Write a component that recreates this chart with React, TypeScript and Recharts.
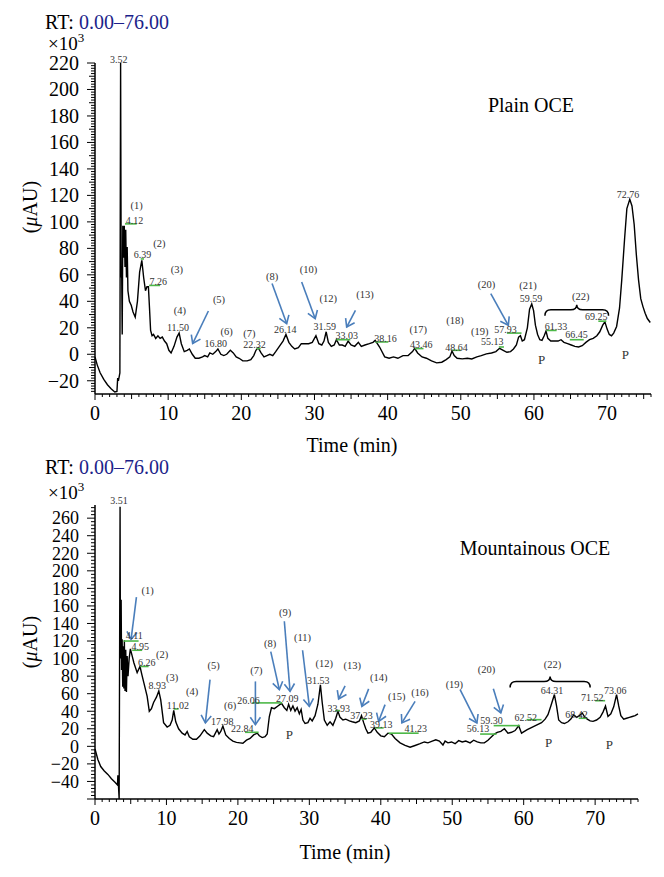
import React from 'react';
import { LineChart, Line, XAxis, YAxis, ReferenceDot, ReferenceLine } from 'recharts';

const FONT = '"Liberation Serif", "Times New Roman", serif';
const ARROW = '#4a7ebb';
const GREEN = '#4db848';
const NAVY = '#1c1f8a';

// ---- Plain OCE trace (time in min, signal x10^3 uAU)
const plainTime = [
    0, 0.3, 0.7, 1.2, 1.7, 2.2, 2.7, 3.0, 3.1, 3.2, 3.4, 3.5, 3.58, 3.65, 3.72, 3.8, 3.9, 4.0, 4.1, 4.2,
    4.3, 4.4, 4.5, 4.7, 4.95, 5.2, 5.5, 5.8, 6.1, 6.4, 6.65, 6.9, 7.1, 7.3, 7.45, 7.6, 7.8, 8.0, 8.3, 8.6,
    8.9, 9.2, 9.5, 9.8, 10.1, 10.4, 10.8, 11.2, 11.5, 11.8, 12.2, 12.6, 12.9, 13.3, 13.7, 14.2, 14.7, 15.0, 15.4, 15.7,
    16.1, 16.5, 16.8, 17.2, 17.6, 18.0, 18.5, 18.9, 19.3, 19.7, 20.2, 20.8, 21.3, 21.7, 22.0, 22.3, 22.7, 23.1, 23.5, 23.9,
    24.3, 24.7, 25.2, 25.7, 26.1, 26.5, 26.9, 27.3, 27.8, 28.2, 28.7, 29.2, 29.7, 30.2, 30.6, 31.0, 31.3, 31.6, 31.9, 32.3,
    32.7, 33.0, 33.4, 33.8, 34.2, 34.6, 35.0, 35.5, 36.0, 36.4, 36.9, 37.5, 38.0, 38.3, 38.9, 39.6, 40.2, 40.8, 41.4, 42.1,
    42.8, 43.4, 43.7, 44.1, 44.7, 45.3, 46.0, 46.7, 47.4, 48.0, 48.5, 48.8, 49.1, 49.5, 50.2, 50.9, 51.5, 52.2, 52.8, 53.5,
    54.2, 54.8, 55.3, 55.8, 56.3, 56.8, 57.2, 57.6, 57.9, 58.15, 58.4, 58.7, 59.1, 59.4, 59.7, 59.95, 60.2, 60.5, 60.8, 61.1,
    61.4, 61.65, 61.9, 62.3, 62.8, 63.3, 63.7, 64.1, 64.6, 65.1, 65.6, 66.1, 66.6, 67.1, 67.6, 68.1, 68.6, 69.0, 69.4, 69.7,
    70.0, 70.3, 70.6, 70.9, 71.3, 71.7, 72.0, 72.4, 72.7, 73.1, 73.4, 73.7, 74.0, 74.3, 74.6, 74.9, 75.2, 75.5, 75.9,
];
const plainSignal = [
    -2, -8, -14, -19, -23, -26, -28.5, -28, -18, -20, -14, 220, 58, 60, 15, 97, 73, 97, 66, 94,
    58, 81, 48, 40, 37, 32, 28, 40, 62, 71, 58, 48, 51, 51, 35, 18, 14, 15, 12, 14,
    12, 13, 10, 8, 3, 1, 6, 13, 16, 8, 2, 3, 4, 0, -3, -3, -2, -1, -2, 1,
    0, 2, 4, 0, -1, 0, 3, 1, -2, -3, -5, -5, -4, -1, 3, 5, 1, -2, -1, 0,
    -1, 2, 6, 10, 15, 9, 6, 4, 5, 8, 8, 8, 9, 14, 8, 7, 10, 17, 9, 6,
    7, 11, 7, 7, 6, 10, 7, 6, 9, 6, 7, 8, 9, 10.5, 5.5, -2, -3, -2, -3, -1,
    -1, 2, 4.5, 1, -2, -3, -5, -6.5, -6, -4, -2, 2.5, -1, -3, -3.5, -3, -3.5, -2, -1, 0.3,
    1, 2, 4.5, 3, 1.5, 2, 4, 7, 13, 14, 10, 11, 20, 34, 38, 33, 22, 15, 11, 10.5,
    14, 17.5, 12, 10, 10, 10, 11, 9, 8, 7, 6, 5.5, 6.5, 9, 11, 12, 14, 17, 22, 24.5,
    19, 15, 14, 16, 21, 35, 56, 88, 110, 117, 112, 98, 75, 56, 42, 36, 31, 27, 24,
];

// ---- Mountainous OCE trace
const mountTime = [
    0, 0.4, 0.8, 1.3, 1.8, 2.3, 2.8, 3.15, 3.2, 3.28, 3.38, 3.51, 3.56, 3.6, 3.66, 3.72, 3.8, 3.88, 3.96, 4.04,
    4.11, 4.2, 4.3, 4.4, 4.5, 4.62, 4.78, 4.95, 5.2, 5.45, 5.9, 6.3, 6.55, 6.85, 7.3, 7.6, 7.9, 8.2, 8.6, 8.93,
    9.2, 9.6, 10.1, 10.5, 10.8, 11.02, 11.3, 11.7, 12.2, 12.6, 12.9, 13.2, 13.7, 14.2, 14.7, 15.3, 15.7, 16.2, 16.6, 17.1,
    17.35, 17.6, 17.9, 18.3, 18.8, 19.3, 19.8, 20.3, 20.7, 21.2, 21.7, 22.2, 22.7, 23.0, 23.4, 23.8, 24.1, 24.4, 24.7, 25.1,
    25.6, 26.1, 26.5, 26.85, 27.1, 27.4, 27.7, 28.0, 28.3, 28.6, 28.85, 29.1, 29.4, 29.8, 30.1, 30.4, 30.8, 31.2, 31.55, 31.8,
    32.1, 32.5, 32.9, 33.3, 33.7, 34.0, 34.3, 34.7, 35.1, 35.6, 36.0, 36.5, 37.0, 37.3, 37.6, 37.9, 38.2, 38.6, 39.1, 39.5,
    40.0, 40.5, 41.0, 41.5, 42.0, 42.7, 43.4, 44.1, 44.8, 45.5, 46.1, 46.6, 47.2, 47.7, 48.2, 48.7, 49.0, 49.4, 49.9, 50.4,
    50.9, 51.4, 51.9, 52.5, 53.0, 53.5, 54.0, 54.5, 55.0, 55.5, 55.9, 56.3, 56.8, 57.3, 57.8, 58.3, 58.8, 59.3, 59.7, 60.1,
    60.5, 61.0, 61.5, 62.0, 62.5, 63.0, 63.4, 63.8, 64.3, 64.6, 64.9, 65.3, 65.7, 66.2, 66.6, 67.0, 67.4, 67.8, 68.2, 68.5,
    68.9, 69.3, 69.7, 70.2, 70.7, 71.1, 71.45, 71.8, 72.2, 72.6, 73.0, 73.3, 73.6, 74.0, 74.4, 74.8, 75.2, 75.6, 76.0,
];
const mountSignal = [
    -3, -15, -23, -28, -32, -37, -41, -44, -33, -44, -60, 273, 100, 150, 167, 87, 122, 68, 114, 66,
    121, 63, 110, 62, 103, 80, 100, 111, 103, 95, 84, 91, 82, 72, 57, 40, 43, 50, 56, 63,
    53, 27, 22, 24, 30, 41, 28, 20, 15, 13, 17, 11, 8, 8, 12, 19, 15, 12, 11, 19,
    14, 17, 23, 13, 9, 6, 4.5, 4, 3.5, 7, 9, 13, 15, 12, 10, 11, 14, 34, 44, 43,
    46, 49, 44, 41, 48, 41, 46, 40, 44, 37, 42, 30, 26, 27, 32, 29, 35, 48, 70, 50,
    30, 24, 28, 24, 32, 40, 33, 30, 31, 29, 28, 27, 29, 35, 27, 20, 15, 16, 21, 16,
    12, 11, 15, 14, 9, 4, 1, -1, 1, 3, 5, 4, 6, 7.5, 6, 1.5, 6, 4, 5, 3,
    6.5, 5, 6, 4, 7, 5, 4, 4, 7, 11, 14, 16, 17, 20, 15, 16, 18, 23.5, 15, 17,
    19, 21, 23, 25, 27, 31, 36, 46, 59, 46, 30, 27, 26, 28, 31, 36, 33, 35, 38, 34,
    31, 29, 28.5, 30, 33, 39, 46, 34, 37, 45, 59, 46, 35, 31, 32, 33, 34, 35, 37,
];

// ---- annotations: [time, signal, text]
const plainLabels: [number, number, string][] = [
    [3.25, 223, '3.52'], [5.7, 112.5, '(1)'], [5.4, 101, '4.12'], [8.8, 84, '(2)'], [6.5, 75.5, '6.39'],
    [11.2, 64, '(3)'], [8.65, 55.3, '7.26'], [11.6, 33, '(4)'], [11.35, 20.6, '11.50'], [16.95, 41.5, '(5)'],
    [16.5, 8, '16.80'], [18.0, 17.4, '(6)'], [21.1, 15.6, '(7)'], [21.8, 7.5, '22.32'], [24.2, 58.9, '(8)'],
    [26.0, 18.6, '26.14'], [29.2, 64, '(10)'], [31.9, 42, '(12)'], [31.4, 21.1, '31.59'], [36.9, 45.3, '(13)'],
    [34.4, 14.3, '33.03'], [39.7, 11.8, '38.16'], [44.2, 18.6, '(17)'], [44.6, 7.3, '43.46'], [49.2, 26, '(18)'],
    [49.4, 5, '48.64'], [52.6, 17.4, '(19)'], [56.1, 18.6, '57.93'], [54.3, 9.3, '55.13'], [53.5, 52.6, '(20)'],
    [59.2, 52, '(21)'], [59.6, 41.8, '59.59'], [66.4, 43.8, '(22)'], [63.0, 21.1, '61.33'], [65.8, 14.9, '66.45'],
    [68.5, 28.7, '69.25'], [72.85, 120.5, '72.76'], [61.05, -4, 'P'], [72.5, 0, 'P'],
];
const mountLabels: [number, number, string][] = [
    [3.37, 280.5, '3.51'], [7.37, 178, '(1)'], [5.5, 126, '4.11'], [6.35, 114, '4.95'], [9.4, 104.6, '(2)'],
    [7.26, 95, '6.26'], [10.8, 79, '(3)'], [8.73, 69, '8.93'], [13.6, 62.7, '(4)'], [11.6, 46.4, '11.02'],
    [16.6, 92, '(5)'], [17.8, 28.5, '17.98'], [18.9, 46.7, '(6)'], [21.5, 52.5, '26.06'], [22.6, 86.7, '(7)'],
    [20.6, 20, '22.84'], [24.5, 117, '(8)'], [26.9, 54, '27.09'], [26.6, 152.8, '(9)'], [29.05, 124.7, '(11)'],
    [32.1, 94.3, '(12)'], [31.25, 75.3, '31.53'], [36.0, 92, '(13)'], [34.1, 43, '33.93'], [39.7, 78.7, '(14)'],
    [37.3, 35, '37.23'], [42.25, 57, '(15)'], [40.05, 24.7, '39.13'], [45.5, 62, '(16)'], [44.9, 19.8, '41.23'],
    [50.3, 71, '(19)'], [53.6, 19.8, '56.13'], [54.8, 88, '(20)'], [55.5, 29.3, '59.30'], [60.3, 33, '62.52'],
    [64.05, 93, '(22)'], [63.97, 63.5, '64.31'], [67.4, 36, '68.42'], [69.6, 56, '71.52'], [72.8, 64, '73.06'],
    [63.5, 4.5, 'P'], [72.0, 2, 'P'], [27.2, 13, 'P'],
];

// [from t, from v, to t, to v]
const plainArrows = [
    [15.5, 32.7, 13.35, 8.1], [24.2, 53.4, 26.2, 23.2], [28.25, 54.6, 30.1, 26.9],
    [35.6, 33.2, 34.4, 20.6], [54.1, 45.8, 56.5, 21.9],
];
const mountArrows = [
    [5.8, 170, 5.05, 122], [16.1, 76, 15.45, 26.7], [22.45, 74, 22.45, 24.7], [24.6, 108, 25.8, 64.7],
    [26.5, 142.5, 27.3, 62.7], [29.05, 109.5, 30.0, 45.6], [35.0, 69, 34.1, 54], [38.3, 65.5, 37.35, 45.6],
    [40.6, 47.5, 39.7, 28.5], [44.8, 51.3, 42.95, 26.7], [51.1, 64.6, 53.45, 26.7], [55.75, 65.5, 56.8, 38],
];

// integration baselines [t start, t end, v]
const plainBaselines = [
    [4.1, 5.7, 98.5], [6.25, 6.7, 72], [7.4, 8.9, 52], [22.1, 22.65, 4.3], [33.0, 34.9, 11], [38.3, 40.1, 9.3],
    [43.7, 44.9, 4.3], [48.8, 50.0, 3], [55.2, 55.9, 5.5], [56.3, 58.3, 16], [61.7, 63.1, 18], [64.9, 66.8, 11],
    [68.8, 69.9, 25],
];
const mountBaselines = [
    [4.0, 6.1, 120], [5.2, 6.6, 109.5], [6.35, 7.5, 91], [11.0, 11.7, 42.6], [21.0, 22.9, 16], [22.0, 26.2, 49.5],
    [33.6, 34.3, 40.7], [37.3, 38.0, 31], [39.2, 40.4, 21], [41.1, 45.3, 15], [53.9, 56.2, 14], [55.8, 59.5, 23.6],
    [60.4, 62.5, 30.4], [67.7, 68.8, 32], [70.0, 71.4, 52],
];

const plainBrace = [61.5, 70.2, 33.7];
const mountBrace = [58.1, 69.3, 74];

const xTicks = Array.from({ length: 77 }, (_, i) => i);
const plainYTicks = Array.from({ length: 125 }, (_, i) => -28 + i * 2);
const mountYTicks = Array.from({ length: 84 }, (_, i) => -60 + i * 4);

const fmt = (v: number) => (v < 0 ? `\u2212${-v}` : `${v}`);

const XTick = (props: any) => {
    const { x, y, payload } = props;
    const v = Math.round(payload.value);
    const len = v % 10 === 0 ? 6 : v % 5 === 0 ? 5 : 3;
    return (
        <g>
            <line x1={x} x2={x} y1={y} y2={y + len} stroke="#000" strokeWidth={1} />
            {v % 10 === 0 && (
                <text x={x} y={y + 26} textAnchor="middle" fontSize={20} fontFamily={FONT} fill="#000">
                    {v}
                </text>
            )}
        </g>
    );
};

const makeYTick = (minLabel: number, fontSize: number) => (props: any) => {
    const { x, y, payload } = props;
    const v = Math.round(payload.value);
    const len = v % 20 === 0 ? 8 : v % 10 === 0 ? 6 : 4;
    return (
        <g>
            <line x1={x - len} x2={x} y1={y} y2={y} stroke="#000" strokeWidth={1} />
            {v % 20 === 0 && v >= minLabel && (
                <text x={x - 16} y={y} dy="0.35em" textAnchor="end" fontSize={fontSize} fontFamily={FONT} fill="#000">
                    {fmt(v)}
                </text>
            )}
        </g>
    );
};

const Arrow = (p: any) => {
    const { x1, y1, x2, y2 } = p;
    const a = Math.atan2(y2 - y1, x2 - x1);
    const L = 9;
    const s = 0.6;
    const ax = x2 - L * Math.cos(a - s);
    const ay = y2 - L * Math.sin(a - s);
    const bx = x2 - L * Math.cos(a + s);
    const by = y2 - L * Math.sin(a + s);
    return (
        <g stroke={ARROW} strokeWidth={1.6} fill="none">
            <line x1={x1} y1={y1} x2={x2} y2={y2} />
            <polyline points={`${ax},${ay} ${x2},${y2} ${bx},${by}`} />
        </g>
    );
};

const Brace = (p: any) => {
    const { x1, y1, x2 } = p;
    const m = (x1 + x2) / 2;
    const y = y1;
    const d = `M${x1},${y + 6} Q${x1},${y} ${x1 + 6},${y} L${m - 6},${y} Q${m},${y} ${m},${y - 5} Q${m},${y} ${m + 6},${y} L${x2 - 6},${y} Q${x2},${y} ${x2},${y + 6}`;
    return <path d={d} stroke="#000" strokeWidth={1.5} fill="none" />;
};

interface PanelProps {
    time: number[];
    signal: number[];
    labels: [number, number, string][];
    arrows: number[][];
    baselines: number[][];
    brace: number[];
    yDomain: [number, number];
    yTicks: number[];
    minLabel: number;
    tickFont: number;
    top: number;
    height: number;
    margin: { top: number; right: number; bottom: number; left: number };
}

function Panel({ time, signal, labels, arrows, baselines, brace, yDomain, yTicks, minLabel, tickFont, top, height, margin }: PanelProps) {
    const data = time.map((t, i) => ({ t, v: signal[i] }));
    const YTick = makeYTick(minLabel, tickFont);
    return (
        <div style={{ position: 'absolute', left: 0, top }}>
            <LineChart width={664} height={height} data={data} margin={margin}>
                <XAxis
                    dataKey="t"
                    type="number"
                    domain={[0, 76]}
                    ticks={xTicks}
                    interval={0}
                    tickLine={false}
                    tickSize={0}
                    tickMargin={0}
                    height={30}
                    axisLine={{ stroke: '#000', strokeWidth: 1.5 }}
                    tick={(p: any) => <XTick {...p} />}
                />
                <YAxis
                    type="number"
                    domain={yDomain}
                    ticks={yTicks}
                    interval={0}
                    width={50}
                    tickLine={false}
                    tickSize={0}
                    tickMargin={0}
                    axisLine={{ stroke: '#000', strokeWidth: 1.5 }}
                    tick={(p: any) => <YTick {...p} />}
                />
                <Line
                    type="linear"
                    dataKey="v"
                    stroke="#000"
                    strokeWidth={1.4}
                    dot={false}
                    isAnimationActive={false}
                />
                {baselines.map((b, i) => (
                    <ReferenceLine
                        key={`g${i}`}
                        segment={[{ x: b[0], y: b[2] }, { x: b[1], y: b[2] }]}
                        stroke={GREEN}
                        strokeWidth={1.6}
                        ifOverflow="visible"
                    />
                ))}
                {arrows.map((a, i) => (
                    <ReferenceLine
                        key={`a${i}`}
                        segment={[{ x: a[0], y: a[1] }, { x: a[2], y: a[3] }]}
                        ifOverflow="visible"
                        shape={(p: any) => <Arrow {...p} />}
                    />
                ))}
                <ReferenceLine
                    segment={[{ x: brace[0], y: brace[2] }, { x: brace[1], y: brace[2] }]}
                    ifOverflow="visible"
                    shape={(p: any) => <Brace {...p} />}
                />
                {labels.map((l, i) => (
                    <ReferenceDot
                        key={`l${i}`}
                        x={l[0]}
                        y={l[1]}
                        r={0}
                        ifOverflow="visible"
                        shape={(p: any) => (
                            <text
                                x={p.cx}
                                y={p.cy}
                                dy="0.35em"
                                textAnchor="middle"
                                fontSize={l[2] === 'P' ? 13 : l[2].startsWith('(') ? 10.5 : 10}
                                fontFamily={FONT}
                                fill="#333"
                            >
                                {l[2]}
                            </text>
                        )}
                    />
                ))}
            </LineChart>
        </div>
    );
}

function Titles({ rtY, expY, auY, timeX, timeY, name, nameX, nameY }: any) {
    return (
        <>
            <text x={45} y={rtY} fontSize={20}>
                RT: <tspan fill={NAVY}>0.00–76.00</tspan>
            </text>
            <text x={48} y={expY} fontSize={19}>
                ×10<tspan fontSize={13} dy={-8}>3</tspan>
            </text>
            <text x={30} y={auY} fontSize={20} textAnchor="middle" transform={`rotate(-90 30 ${auY})`} dy="0.35em">
                (<tspan fontStyle="italic">μ</tspan>AU)
            </text>
            <text x={timeX} y={timeY} fontSize={20} textAnchor="middle">
                Time (min)
            </text>
            <text x={nameX} y={nameY} fontSize={20} textAnchor="middle">
                {name}
            </text>
        </>
    );
}

export default function App() {
    return (
        <div style={{ position: 'absolute', left: 0, top: 0, width: 664, height: 877, background: '#fff' }}>
            <Panel
                time={plainTime}
                signal={plainSignal}
                labels={plainLabels}
                arrows={plainArrows}
                baselines={plainBaselines}
                brace={plainBrace}
                yDomain={[-30, 220]}
                yTicks={plainYTicks}
                minLabel={-20}
                tickFont={20}
                top={0}
                height={440}
                margin={{ top: 63, right: 13, bottom: 16, left: 45 }}
            />
            <Panel
                time={mountTime}
                signal={mountSignal}
                labels={mountLabels}
                arrows={mountArrows}
                baselines={mountBaselines}
                brace={mountBrace}
                yDomain={[-60, 275]}
                yTicks={mountYTicks}
                minLabel={-40}
                tickFont={18}
                top={445}
                height={420}
                margin={{ top: 60, right: 26, bottom: 36, left: 45 }}
            />
            <svg
                width={664}
                height={877}
                style={{ position: 'absolute', left: 0, top: 0, pointerEvents: 'none' }}
                fontFamily={FONT}
                fill="#000"
            >
                <Titles rtY={29} expY={50} auY={207} timeX={352} timeY={452} name="Plain OCE" nameX={531} nameY={112} />
                <Titles rtY={474} expY={499} auY={642} timeX={345} timeY={859} name="Mountainous OCE" nameX={535} nameY={555} />
            </svg>
        </div>
    );
}
